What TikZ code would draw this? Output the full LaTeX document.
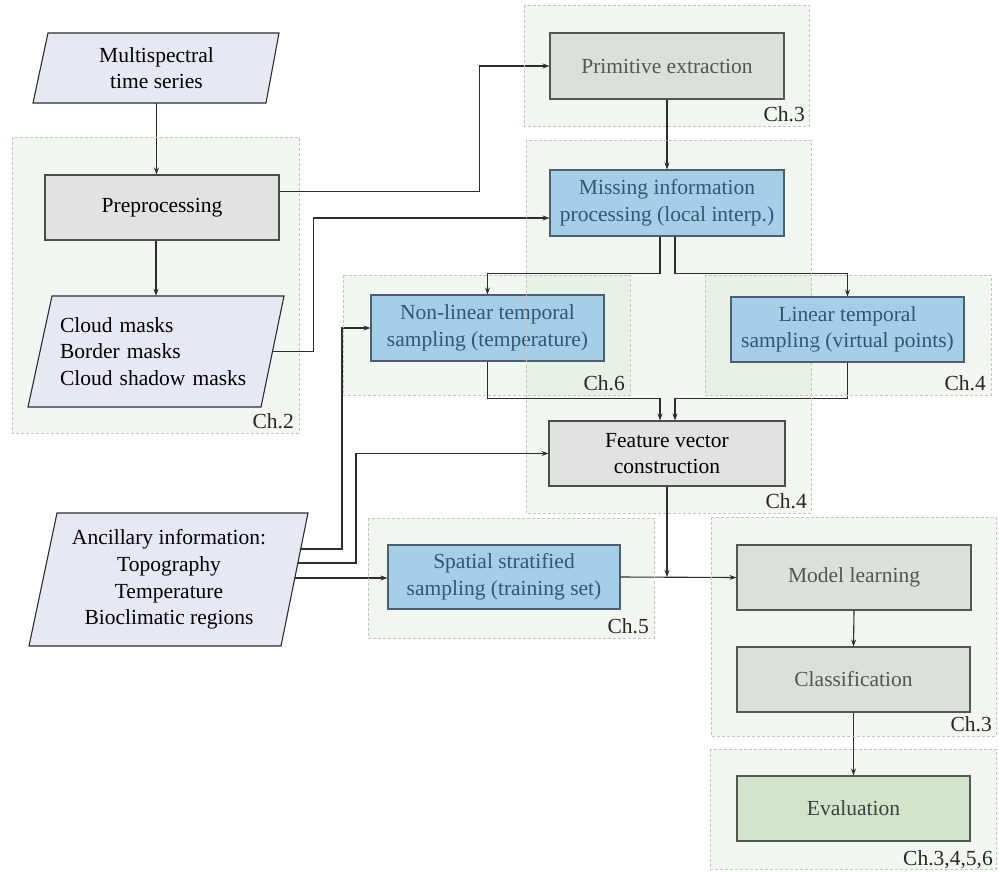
\documentclass[tikz,border=0pt]{standalone}
\usepackage{fontspec}
\setmainfont{Liberation Serif}
\usetikzlibrary{arrows.meta}
\definecolor{cgreen}{RGB}{208,224,200}
\definecolor{cborder}{RGB}{195,198,195}
\definecolor{linec}{RGB}{45,45,45}
\definecolor{parafill}{RGB}{232,232,244}
\definecolor{prefill}{RGB}{226,226,226}
\definecolor{primfill}{RGB}{220,224,218}
\definecolor{bluefill}{RGB}{166,206,230}
\definecolor{bluetext}{RGB}{46,88,118}
\definecolor{blueborder}{RGB}{75,95,110}
\definecolor{evalfill}{RGB}{210,229,204}
\definecolor{graytext}{RGB}{85,85,85}
\begin{document}
\begin{tikzpicture}[x=1pt,y=-1pt,
  font=\fontsize{21.5}{26.7}\selectfont,
  cfill/.style={fill=cgreen, fill opacity=0.28, draw=none},
  cline/.style={draw=cborder, line width=0.8pt, dash pattern=on 3pt off 2pt},
  chlab/.style={anchor=base east, inner sep=0pt, text=black!85},
  box/.style={rectangle, draw=#1, line width=1.1pt, inner sep=0pt, align=center},
  para/.style={draw=linec, line width=1.1pt, fill=parafill},
  arr/.style={draw=linec, line width=1.1pt, -{Stealth[length=7pt,width=5pt]}},
  ln/.style={draw=linec, line width=1.1pt}]
\useasboundingbox (0,0) rectangle (999,871);

% container fills
\fill[cfill] (12,137) rectangle (299,433);
\fill[cfill] (524,5) rectangle (809,126);
\fill[cfill] (526,140) rectangle (811,513);
\fill[cfill] (343,275) rectangle (630,395);
\fill[cfill] (705,275) rectangle (991,395);
\fill[cfill] (368,518) rectangle (654,638);
\fill[cfill] (711,517) rectangle (996,736);
\fill[cfill] (710,749) rectangle (996,869);

% parallelogram shapes
\draw[para] (48,33) -- (279,33) -- (266,103) -- (33,103) -- cycle;
\draw[para] (52,296) -- (284,296) -- (261,407) -- (28,407) -- cycle;
\draw[para] (57,513) -- (308,513) -- (281,646) -- (29,646) -- cycle;

% data nodes
\node[rectangle, inner sep=0pt, align=center, minimum width=232pt, minimum height=70pt] (ms) at (156.5,68) {Multispectral\\time series};
\node[rectangle, inner sep=0pt, align=left, text width=192pt, minimum width=232pt, minimum height=111pt] (masks) at (156,351.5) {Cloud masks\\Border masks\\Cloud shadow masks};
\node[rectangle, inner sep=0pt, align=center, minimum width=251pt, minimum height=133pt] (anc) at (169,579.5) {Ancillary information:\\Topography\\Temperature\\Bioclimatic regions};

% process boxes
\node[box=linec!85, fill=prefill, minimum width=234pt, minimum height=65pt] (pre) at (162,207.5) {Preprocessing};
\node[box=graytext, fill=primfill, text=graytext, minimum width=234pt, minimum height=66pt] (prim) at (667,66) {Primitive extraction};
\node[box=blueborder, fill=bluefill, text=bluetext, minimum width=234pt, minimum height=66pt] (miss) at (667,203) {Missing information\\processing (local interp.)};
\node[box=blueborder, fill=bluefill, text=bluetext, minimum width=233pt, minimum height=66pt] (nonlin) at (487.5,328) {Non-linear temporal\\sampling (temperature)};
\node[box=blueborder, fill=bluefill, text=bluetext, minimum width=233pt, minimum height=65pt] (lin) at (847.5,329.5) {Linear temporal\\sampling (virtual points)};
\node[box=linec!85, fill=prefill, minimum width=236pt, minimum height=65pt] (feat) at (667,453.5) {Feature vector\\construction};
\node[box=blueborder, fill=bluefill, text=bluetext, minimum width=232pt, minimum height=64pt] (spat) at (504,577) {Spatial stratified\\sampling (training set)};
\node[box=graytext, fill=primfill, text=graytext, minimum width=234pt, minimum height=65pt] (model) at (854,577.5) {Model learning};
\node[box=graytext, fill=primfill, text=graytext, minimum width=233pt, minimum height=65pt] (class) at (853.5,679.5) {Classification};
\node[box=graytext, fill=evalfill, text=black!75, minimum width=233pt, minimum height=65pt] (eval) at (853.5,808.5) {Evaluation};

% helper coordinates on the slanted edge of the ancillary shape
\coordinate (a1) at (301,549);
\coordinate (a2) at (298,563);
\coordinate (a3) at (295,578);
\coordinate (j) at (feat.south |- spat.east);

% connectors
\draw[arr] (ms.south) -- (ms.south |- pre.north);
\draw[arr] (masks.north |- pre.south) -- (masks.north);
\draw[arr] ([yshift=16pt]pre.east) -- ++(200,0) |- (prim.west);
\draw[arr] (masks.east) -- ++(41,0) |- ([yshift=-15pt]miss.west);
\draw[arr] (prim.south) -- (miss.north);
\draw[arr] ([xshift=-7pt]miss.south) -- ++(0,37) -| (nonlin.north);
\draw[arr] ([xshift=8pt]miss.south) -- ++(0,37) -| (lin.north);
\draw[arr] (nonlin.south) -- ++(0,37) -| ([xshift=-7pt]feat.north);
\draw[arr] (lin.south) -- ++(0,36) -| ([xshift=8pt]feat.north);
\draw[arr] (a1) -- ++(41,0) |- (nonlin.west);
\draw[arr] (a2) -- ++(58,0) |- (feat.west);
\draw[arr] (a3) -- (spat.west |- a3);
\draw[arr] (feat.south) -- (j);
\draw[arr] (spat.east) -- (model.west);
\draw[arr] (model.south) -- (class.north);
\draw[arr] (class.south) -- (eval.north);

% container borders and labels
\draw[cline] (12,137) rectangle (299,433);
\draw[cline] (524,5) rectangle (809,126);
\draw[cline] (526,140) rectangle (811,513);
\draw[cline] (343,275) rectangle (630,395);
\draw[cline] (705,275) rectangle (991,395);
\draw[cline] (368,518) rectangle (654,638);
\draw[cline] (711,517) rectangle (996,736);
\draw[cline] (710,749) rectangle (996,869);
\node[chlab] (l2) at (294,428) {Ch.2};
\node[chlab] (l3a) at (805,121) {Ch.3};
\node[chlab] (l4a) at (807,508) {Ch.4};
\node[chlab] (l6) at (625,390) {Ch.6};
\node[chlab] (l4b) at (986,390) {Ch.4};
\node[chlab] (l5) at (649,633) {Ch.5};
\node[chlab] (l3b) at (992,731) {Ch.3};
\node[chlab] (l3456) at (993,865) {Ch.3,4,5,6};
\end{tikzpicture}
\end{document}
